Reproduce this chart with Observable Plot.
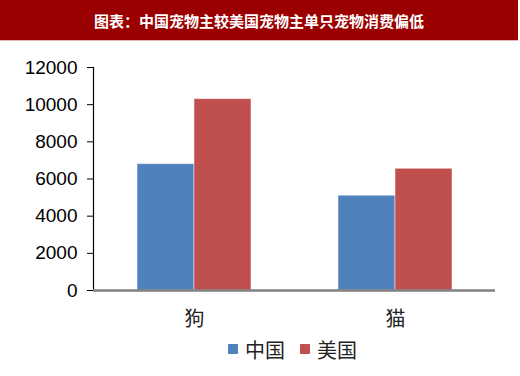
<!DOCTYPE html>
<html>
<head>
<meta charset="utf-8">
<script src="https://cdn.jsdelivr.net/npm/d3@7"></script>
<script src="https://cdn.jsdelivr.net/npm/@observablehq/plot@0.6"></script>
<style>
  html, body { margin: 0; padding: 0; background: #fff; }
  body { width: 520px; height: 376px; overflow: hidden; font-family: "Liberation Sans", Arial, sans-serif; }
  #title {
    width: 518px; height: 40px; background: #9b0000; color: #fff;
    border-bottom: 1px solid #e6b3b3;
    font-family: "Noto Sans CJK SC", sans-serif; font-weight: 700; font-size: 15px;
    line-height: 41px; text-align: center; box-sizing: content-box;
  }
  #chart svg { display: block; }
  #legend {
    display: flex; align-items: center; margin-left: 228px; margin-top: 1px; height: 24px;
    font-family: "Noto Sans CJK SC", sans-serif; font-size: 20px; color: #222;
  }
  #legend .sw { width: 10px; height: 10px; display: inline-block; margin-right: 7px; border-radius: 1px; }
  #legend .item { display: flex; align-items: center; margin-right: 15px; }
</style>
</head>
<body>
<div id="title">图表：中国宠物主较美国宠物主单只宠物消费偏低</div>
<div id="chart"></div>
<div id="legend"></div>
<script>
const categories = ["狗", "猫"];
const seriesNames = ["中国", "美国"];
const chinaValues = [6800, 5100];
const usValues = [10300, 6550];
const yTicks = [0, 2000, 4000, 6000, 8000, 10000, 12000];
const colors = ["#4f81bd", "#c0504d"];

const china = categories.map((c, i) => ({category: c, series: seriesNames[0], value: chinaValues[i]}));
const us = categories.map((c, i) => ({category: c, series: seriesNames[1], value: usValues[i]}));

const width = 520, marginLeft = 93, marginRight = 25;
const pInner = 0.433;
const step = (width - marginLeft - marginRight) / categories.length;
const half = step * (1 - pInner) / 2;

const plot = Plot.plot({
  width, height: 295,
  marginLeft, marginRight, marginTop: 26, marginBottom: 46,
  style: {fontFamily: "'Liberation Sans', Arial, sans-serif", fontSize: "19px", color: "#000", background: "#fff"},
  x: {type: "band", domain: categories, paddingInner: pInner, paddingOuter: pInner / 2, label: null, tickSize: 0, tickPadding: 21},
  y: {domain: [0, 12000], ticks: yTicks, tickFormat: d => String(d), label: null, tickSize: 6, tickPadding: 10},
  marks: [
    Plot.barY(china, {x: "category", y: "value", fill: colors[0], insetRight: half, stroke: "#fff", strokeOpacity: 0.5, strokeWidth: 1}),
    Plot.barY(us, {x: "category", y: "value", fill: colors[1], insetLeft: half, stroke: "#fff", strokeOpacity: 0.5, strokeWidth: 1}),
    Plot.axisX({tickSize: 0, tickPadding: 21, fontFamily: "'Noto Sans CJK SC', sans-serif", fontSize: 20, fill: "#222"}),
    Plot.axisY({ticks: yTicks, tickFormat: d => String(d), tickSize: 6, tickPadding: 10, stroke: "#000", fill: "#000", fontSize: 19, letterSpacing: "0.8px"}),
    Plot.frame({anchor: "left", stroke: "#000", strokeWidth: 1.2}),
    Plot.ruleY([0], {stroke: "#808080", strokeWidth: 2.5})
  ]
});
document.getElementById("chart").append(plot);

const legend = document.getElementById("legend");
seriesNames.forEach((s, i) => {
  const item = document.createElement("span");
  item.className = "item";
  const sw = document.createElement("span");
  sw.className = "sw";
  sw.style.background = colors[i];
  item.append(sw, document.createTextNode(s));
  legend.append(item);
});
</script>
</body>
</html>
